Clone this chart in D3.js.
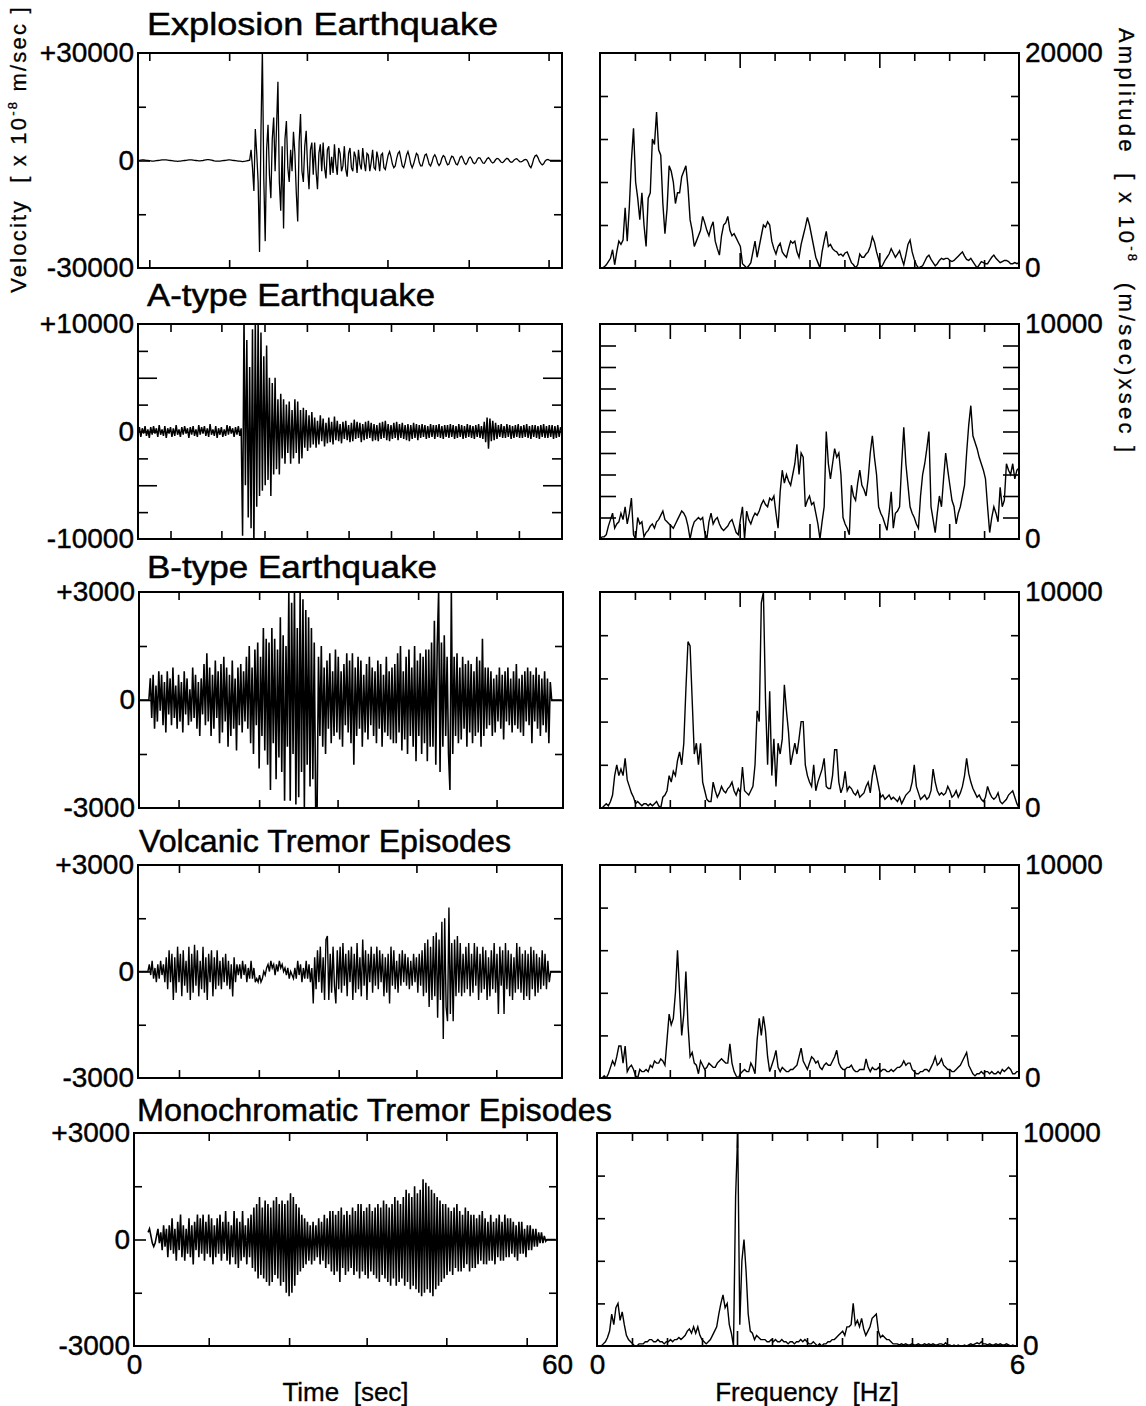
<!DOCTYPE html>
<html><head><meta charset="utf-8">
<script src="https://cdn.jsdelivr.net/npm/d3@7"></script>
<style>
body{margin:0;background:#fff;}
svg{display:block;}
text{white-space:pre;}
</style></head><body>
<svg id="chart" width="1146" height="1406"></svg>
<script>
// ================= DATA =================
const titles = ["Explosion Earthquake","A-type Earthquake","B-type Earthquake","Volcanic Tremor Episodes","Monochromatic Tremor Episodes"];
const velLimits = [30000,10000,3000,3000,3000];
const velTickStep = [15000,2500,1500,1500,1500];
const velTopLabels = ["+30000","+10000","+3000","+3000","+3000"];
const velBottomLabels = ["-30000","-10000","-3000","-3000","-3000"];
const timeTicks = [[1.6,12.9,23.9,35.3,46.8,58.1],[4.6,11.8,17.9,23.9,29.8,35.8,41.8,47.9,53.9],[5.6,17.0,28.1,39.5,50.6],[5.8,17.1,28.4,39.4,50.7],[10.6,22.0,33.0,44.3,55.7]];
const timeLabels = ["0","60"];
const ampMax = [20000,10000,10000,10000,10000];
const ampTickStep = [4000,1000,2000,2000,2000];
const ampTopLabels = ["20000","10000","10000","10000","10000"];
const freqTicks = [0.5,1,1.5,2,2.5,3,3.5,4,4.5,5,5.5];
const freqLabels = ["0","6"];
const sampleDt = 0.2;           // seconds between samples
const velStart = [0,0,0,0,2.0]; // time of first sample
const freqStep = 0.03;          // Hz between spectral samples

const explosionVel = [
0,50,100,150,150,100,50,0,-50,-100,
-150,-150,-100,-50,0,50,100,150,200,200,
150,100,50,0,-50,-100,-150,-200,-250,-200,
-150,-100,-50,0,50,100,150,200,150,100,
50,0,-50,-100,-100,-50,0,100,200,250,
250,200,100,0,-100,-150,-200,-200,-150,-100,
-50,0,50,100,150,150,100,50,0,-50,
-100,-150,-200,-250,-300,-250,-200,-100,0,100,
3000,-2000,-8500,8800,2000,-6000,-25500,8000,31000,-5000,
-22500,3000,10000,-4000,-10500,6000,12000,-3000,9000,22000,
-6000,-14000,4000,-19000,6000,11000,-2000,-6000,3000,-3000,
8000,2000,-9000,-17000,5000,13000,-3000,-6000,4000,8300,
-2000,-8000,3000,5000,-4000,5000,-3000,-8000,2000,4500,
-3000,5000,-2000,-5000,3000,4000,-4000,1000,-3500,4500,-1000,-4000,3500,2000,-3000,-1500,4000,-2500,-4500,2000,
3500,-2000,-3000,2500,1000,-3500,3000,-1000,-2500,3500,-500,-3000,2000,1500,-3000,-500,3000,-2000,-2500,2500,500,-3000,1500,2000,-2000,
-2500,-500,1500,2500,1000,-1000,-2000,-1500,500,2000,2500,500,-1500,-2000,-500,1500,2500,1000,-1000,-2000,-1000,500,2000,1500,-500,
-1500,-1500,0,1500,1800,500,-1000,-1500,-500,1000,1600,800,-700,-1400,-800,600,1400,1000,-300,-1200,-1000,300,1200,1000,0,-1000,-1200,-200,900,1200,400,-700,-1100,-500,600,
1000,500,-500,-900,-600,300,800,700,0,-700,-800,-200,500,800,300,-400,-700,-400,200,600,500,0,-500,-600,-200,300,600,400,-200,-500,-400,100,400,500,100,-300,-400,-200,100,300,
200,-500,-1500,-2000,-1000,500,1300,1500,800,-200,-800,-1200,-900,-200,200,300,100,0,0,50,0,0,50,0,0];

const atypeVel = [
-300,400,-500,300,-200,500,-400,200,-600,400,
-300,500,-200,300,-500,600,-300,200,-400,500,
-600,300,-200,400,-500,300,-400,600,-300,200,
-500,400,-300,500,-200,300,-600,400,-300,500,
-400,200,-500,600,-300,400,-200,500,-400,300,
-500,700,-300,200,-400,500,-600,300,-300,400,
-500,200,-400,600,-300,500,-200,300,-500,400,
-300,500,-400,300,
-9700,11000,-5000,8500,-8000,6000,-9000,9500,-11000,10500,
-7000,10500,-6000,9200,-5500,7000,-5000,8000,-4500,5000,
-6000,4500,-4000,5000,-3500,3000,-4000,3500,-2500,3000,
-3000,2500,-2000,2800,-3000,2000,-2500,3000,-2000,2800,
-3000,2000,-2500,2200,-1500,2000,-1800,1500,-1500,1800,
-1200,
1300,-1500,1000,-1200,1500,-900,1200,-1400,800,-1100,1300,-1000,900,-1200,1400,
-800,1000,-900,700,-1100,900,-700,1000,-800,600,
-1000,800,-900,1100,-700,900,-600,800,-1000,700,
-800,900,-700,1000,-600,800,-900,700,-800,600,
-900,800,-700,900,-600,1000,-800,700,-900,600,
-700,800,-600,900,-800,700,-600,800,-700,600,
-800,700,-900,600,-700,800,-600,700,-800,600,
-600,700,-500,600,-700,500,-600,700,-500,600,
-700,600,-500,700,-600,500,-700,600,-500,600,
-600,700,-500,600,-700,500,-600,700,-500,600,
-700,500,-600,700,-500,600,-600,500,-700,600,
-500,700,-600,500,-700,
900,-1000,1300,-1600,1200,-900,1000,-800,800,-700,
600,-500,700,-600,500,-600,700,-500,600,-700,
500,-600,600,-500,700,-600,500,-600,600,-500,
700,-600,500,-700,600,-500,600,-600,500,-700,
600,-500,700,-600,500,-600,600,-500,600,-700,
500,-600,600,-500,400];

const btypeVel = [
0,0,0,0,0,0,0,0,
600,-500,700,-800,400,-600,800,-300,700,-700,
500,-900,800,-400,600,-700,900,-500,400,-800,
700,-600,500,-900,800,-400,600,-700,300,-600,
900,-500,700,-800,500,-1000,600,-400,
1000,-700,1300,-600,900,-1000,700,-800,1100,-500,
800,-1200,1000,-900,1200,-600,900,-1300,700,-1000,
1100,-800,600,-1400,900,-700,1000,-900,800,-600,
1200,-800,1500,-1200,900,-1500,1400,-700,1600,-1900,1200,-1000,2000,-1400,1700,
-1800,1600,-2500,2000,-1200,1700,-2200,1400,-1600,2300,-2000,1800,-2800,1500,-1300,
3000,-2800,2700,-1500,3000,-2900,2000,-2700,3000,-2000,2800,-3000,2500,-1800,2300,-2400,2000,-2200,1600,-3000,
-3100,1200,-1000,1500,-1300,900,-1500,1100,-800,1300,-1200,800,-1000,1400,-900,1200,-1100,800,-1300,1000,-700,1300,-900,1100,-1200,
1300,-1800,900,-1000,1200,-800,1100,-1300,700,-900,1000,-1100,1200,-700,900,-1000,800,-1200,1100,-800,1000,-1300,700,-900,1200,-1000,800,-1100,900,-1200,
1000,-1200,1300,-900,1500,-1400,800,-1100,1200,-1500,
1400,-1000,900,-1300,1500,-1700,1100,-1000,1300,-1500,
1200,-1200,1400,-1700,1400,-1300,1600,-1300,2200,-1800,
1500,3000,-2000,1600,-1300,1800,-1000,1200,-1500,-2500,
3000,-1500,1200,-1000,1300,-1200,900,-1100,1200,-800,1000,-1300,1100,-900,1000,-1200,800,-1000,1200,-900,1100,-1300,1700,-1000,900,
-800,900,-700,800,-1000,600,-900,700,-600,900,
-800,700,-1100,800,-600,900,-700,600,-900,800,
-700,1000,-800,600,-900,700,-1000,800,-600,900,
-700,800,-1200,700,-600,900,-800,700,-1000,600,
-700,800,-900,600,-1200,500,
0,0,0,0,0,0,0,0];

const tremorVel = [
0,0,0,0,0,0,0,0,
200,-100,300,-200,100,-300,200,-200,300,-100,200,-300,400,
-500,600,-300,500,-800,400,-600,700,-300,500,-700,600,-400,300,-600,
700,-800,500,-600,750,-400,600,-700,300,-500,700,-600,400,-800,500,-300,600,-700,400,-500,600,-400,300,-500,400,
-300,500,-400,300,-500,200,-700,400,-300,200,
-100,200,-200,300,-100,200,-300,100,-200,300,
-200,100,-300,-200,-300,-100,-300,-200,0,-100,
100,200,0,300,100,200,-100,200,0,300,
100,200,0,100,-100,100,-200,0,-100,-200,
100,-200,300,-100,200,-300,100,-200,300,-200,
200,-300,100,
-900,400,-500,600,-300,700,-600,400,-800,900,
1000,-800,500,-600,700,-400,-900,600,-500,700,
-600,800,-400,500,-700,600,-300,700,-800,500,
-600,800,-500,400,-700,900,-400,600,-800,500,
-300,700,
-600,500,-400,700,-500,600,-300,500,-700,400,
-600,500,-900,700,-400,600,-500,300,-600,500,
-400,600,-300,500,-400,
400,-500,300,-400,500,-300,400,-600,500,-400,
600,-700,800,-600,900,-1000,700,-800,1000,-700,
1100,-1300,900,-800,1400,-1900,1500,-1000,-1400,1800,
-1200,800,-1400,900,-700,1000,-600,800,-700,500,
-600,700,-500,800,-700,500,-600,800,-400,700,
-800,500,-600,700,-500,600,-800,400,-700,600,
-500,800,-600,500,-1200,700,-400,600,-1200,800,
-500,600,-700,500,-800,400,-600,800,-500,700,
-600,500,-800,600,-700,500,-800,700,-500,600,
-700,500,-600,400,-500,600,-400,500,-500,300,
-300,0,
0,0,0,0,0,0,0];

const monoVel = [
200,300,100,-100,-200,-100,100,300,-100,
200,-300,400,-200,300,-500,400,-300,600,-400,
300,-600,500,-300,700,-500,400,-600,300,-400,
600,-500,400,-700,500,-300,700,
-500,600,-400,700,-600,500,-400,700,-500,600,
-700,400,-500,600,-400,700,-600,500,-400,800,
-600,500,-700,400,-500,
800,-700,600,-800,500,-600,800,-500,400,-700,600,-500,700,-800,900,
-900,1000,-1100,1200,-1000,900,-1100,1100,-1200,1000,
-1300,900,-1200,1100,-1000,1200,-1100,1000,-1300,1100,
-1200,1000,-1500,1100,-1600,1300,-1500,1200,-1300,1000,
-1000,900,-900,700,-800,
600,-700,500,-600,400,-700,500,-600,400,-500,
600,-700,500,-600,700,-800,600,-700,800,-900,
800,-1000,700,-900,800,-1200,900,-800,700,-1000,
800,-900,700,-800,900,-1000,800,-900,1000,-1100,
1000,-900,800,-1000,900,-1100,1000,-900,800,-1000,
900,-1100,1000,-1200,900,-1000,1100,-1100,1000,-1200,
900,-1300,1000,-1100,1200,-1300,1100,-1200,1000,-1100,
1200,-1300,1400,-1200,1300,-1400,1200,-1300,1500,-1400,
1300,-1500,1400,-1600,1700,-1500,1600,-1400,1500,-1500,
1400,-1600,1300,-1400,1200,-1300,1100,-1200,1000,-1100,
1000,-1000,900,-900,800,-1000,900,-800,1000,-900,
800,-900,700,-800,900,-700,800,-900,700,-800,
700,-800,600,-700,700,-600,800,-700,600,-700,
500,-600,700,-600,500,-700,600,-500,700,-600,
500,-600,700,-500,600,
-500,600,-400,500,-500,400,-600,500,-400,500,
-400,300,-500,400,-300,400,-300,300,-200,300,
-200,200,-100,200,-100,100,-50,0,0,0,0,0,0,0];

const explosionAmp = [
0,0,100,300,600,900,1700,300,1500,2500,
2200,2600,5600,2500,5700,10000,13000,8000,6500,4500,
7000,4000,2000,6500,7000,12000,11500,14500,11000,10500,
6000,3200,5500,9500,9000,8000,6000,7000,7000,8500,
9000,9500,7500,4500,3500,2000,2500,3000,3500,4800,
4200,3500,3000,3800,4300,2500,1800,1200,3000,4000,
4200,4800,3500,3000,3200,2800,2400,2000,400,200,
0,200,500,1500,2500,1000,2000,3000,4000,3800,
4300,4000,2500,1800,1300,2000,2300,1500,1200,1000,
1800,2500,2300,2500,1500,1000,2200,3000,3800,4700,
4000,3000,2000,1000,500,0,1500,2500,3400,2000,
2200,1800,1600,1500,1200,1300,1100,1400,1500,1000,
500,300,0,300,1300,1000,1000,1300,1500,2000,
2900,2400,1500,800,0,300,700,1000,1300,1800,
1400,1000,1300,1600,900,300,1200,2200,2600,1500,
800,300,0,100,200,600,1000,1200,800,500,
200,400,700,900,800,900,900,700,600,700,
900,1100,1300,1500,1100,800,700,900,600,300,
0,300,600,500,400,400,700,1000,1200,900,
700,500,600,700,700,600,400,400,500,400,500];

const atypeAmp = [
0,100,100,200,600,900,1200,500,700,800,
1200,900,1500,700,1200,1900,200,0,1000,700,
800,100,300,400,600,700,500,800,900,1100,
1300,900,800,700,600,500,700,900,1100,1300,
1200,1000,600,0,500,800,900,1000,900,1000,
300,0,800,1200,700,900,1000,700,500,400,
500,600,800,900,600,300,200,900,1500,0,
1300,900,700,1000,1200,1100,1300,1600,1800,1600,
1500,1900,1800,2000,1200,500,2200,3200,2600,3000,
2700,2500,3000,3500,4400,3000,4000,3800,1500,1800,
2000,1600,1700,1200,700,0,800,1500,5000,3500,
2800,3500,4200,3800,4000,3000,1000,700,500,200,
2500,2000,1800,2600,3200,2500,2300,2000,2800,4000,
4800,3800,3000,1500,1200,1000,700,400,1200,2200,
500,1200,1300,1500,3500,5200,3500,2500,1500,1200,
1000,700,500,2000,3000,3500,4200,5000,1500,900,
300,1200,2000,1500,2800,4000,3200,2500,1800,1500,
700,1200,1500,2000,2500,4000,5300,6200,4800,4500,
4200,3800,3500,3200,2800,1500,300,1000,1500,1200,
800,2400,1500,1800,3500,3200,3000,3500,2800,3200,3300];

const btypeAmp = [
0,0,100,200,100,300,600,1500,2000,1500,
1800,1500,2300,1300,1000,700,500,200,300,200,
100,200,200,100,200,100,200,300,100,0,
500,600,800,1500,1200,1700,1500,2200,2600,2000,
3000,5500,7700,7500,5000,2500,3000,2000,3000,1200,
800,400,300,300,1200,800,500,700,1000,800,
700,900,1000,1200,800,600,900,700,1900,800,
700,600,800,1000,2000,4500,4000,9500,10000,5000,
2000,5400,1500,3200,1000,3000,2500,3200,5700,4500,
3500,2000,2500,3000,2500,3200,4000,4000,2000,1500,
1200,1000,2000,800,1200,1500,1800,2300,1000,900,
900,1500,2700,2700,1200,700,1000,1700,800,1000,
900,700,600,800,500,600,700,1000,1200,700,
1500,2000,1500,1000,500,600,400,500,600,400,
500,400,300,500,200,400,600,700,800,1200,
2000,1000,700,400,500,600,400,500,800,1800,
1200,800,600,700,600,700,1000,800,500,600,
800,500,700,1000,1500,2300,1600,1200,900,700,
500,600,400,300,500,1000,700,500,400,500,
700,300,200,300,400,600,700,800,500,200,0];

const tremorAmp = [
0,0,100,0,200,500,800,600,1000,1500,
1500,700,1500,300,500,600,400,100,0,400,
300,300,400,300,600,500,800,700,700,900,
800,600,1800,3000,2500,2800,4000,6000,4000,2000,
3000,5000,2500,1000,1200,700,600,200,800,600,
400,500,700,600,500,500,700,800,900,800,
700,700,1600,700,300,100,0,200,300,400,
300,300,700,500,200,1800,2800,2000,2900,2200,
1000,300,600,900,1300,500,300,500,400,300,
300,400,400,500,600,1000,1400,800,600,400,
700,1000,900,700,800,500,400,600,700,600,
600,800,1000,1300,700,500,400,400,500,500,
600,400,300,300,400,400,400,900,500,300,
500,400,400,500,300,400,400,300,300,400,
300,400,500,500,600,800,600,700,700,400,
300,200,200,300,300,400,400,300,500,700,
1000,600,700,900,600,500,400,400,300,300,
400,500,600,800,1000,1200,600,400,200,100,
200,200,300,200,300,300,200,300,200,200,
300,200,400,300,400,500,400,200,200,300,300];

const monoAmp = [
0,0,0,100,200,400,700,1500,1000,1800,
2000,1200,1600,1000,500,300,200,100,0,0,
100,100,100,200,200,300,300,200,200,300,
200,200,100,200,200,300,200,300,300,400,
300,400,500,700,800,600,900,600,900,500,
300,200,100,200,300,500,700,900,1500,2000,
2400,1800,2000,1000,600,0,7000,10000,1000,4000,
5000,3500,1500,700,600,300,500,400,300,300,
300,200,200,300,200,300,200,200,300,200,
200,100,200,200,100,200,200,300,200,300,
200,100,100,200,100,0,100,0,100,100,
200,200,300,300,400,500,600,700,500,900,
900,1000,2000,1000,1200,900,1300,800,500,700,
900,1300,1400,1500,700,400,500,400,300,300,
200,100,100,100,50,100,50,100,50,50,
100,50,50,100,50,50,100,50,100,50,
100,50,50,100,100,50,150,50,50,0,
50,0,50,0,0,50,0,50,100,50,
100,150,100,200,100,100,50,100,50,50,
100,50,100,50,50,100,50,0,50,0,0];

const velSeries = [explosionVel, atypeVel, btypeVel, tremorVel, monoVel];
const ampSeries = [explosionAmp, atypeAmp, btypeAmp, tremorAmp, monoAmp];

// ================= LAYOUT =================
const FONT = "'Liberation Sans', Arial, Helvetica, sans-serif";
const leftBox  = [[138,562],[138,562],[139,563],[138,562],[134,557]];
const rightBox = [[600,1019],[600,1019],[600,1019],[600,1019],[597,1017]];
const rowBox   = [[53,268],[324,539],[592,808],[865,1078],[1133,1346]];
const titlePos = [[147,35,351],[147,306,288],[147,578,290],[139,852,372],[137,1121,475]];
const velStroke = [1.3,1.5,1.6,1.4,1.6];

const svg = d3.select("#chart");
svg.append("rect").attr("width",1146).attr("height",1406).attr("fill","#fff");

function styleAxis(g, size){
  g.attr("font-family", FONT).attr("font-size", size);
  g.select(".domain").remove();
  g.selectAll(".tick line").attr("stroke","#000").attr("stroke-width",1.6);
  g.selectAll(".tick text").attr("fill","#000").attr("stroke","#000").attr("stroke-width",0.4);
}

for (let r = 0; r < 5; r++) {
  const [ly0, ly1] = rowBox[r];
  // ---------- left: seismogram ----------
  const [lx0, lx1] = leftBox[r];
  const lim = velLimits[r];
  const x = d3.scaleLinear().domain([0,60]).range([lx0,lx1]);
  const y = d3.scaleLinear().domain([-lim,lim]).range([ly1,ly0]);
  svg.append("clipPath").attr("id","cl"+r).append("rect")
    .attr("x",lx0).attr("y",ly0).attr("width",lx1-lx0).attr("height",ly1-ly0);
  const line = d3.line().x((d,i)=>x(velStart[r]+i*sampleDt)).y(d=>y(d));
  svg.append("path").datum(velSeries[r]).attr("d",line)
    .attr("fill","none").attr("stroke","#000").attr("stroke-width",velStroke[r])
    .attr("clip-path","url(#cl"+r+")");

  // time ticks (inside, top & bottom)
  styleAxis(svg.append("g").attr("transform",`translate(0,${ly0})`)
    .call(d3.axisTop(x).tickValues(timeTicks[r]).tickSize(-8).tickFormat("")), 10);
  styleAxis(svg.append("g").attr("transform",`translate(0,${ly1})`)
    .call(d3.axisBottom(x).tickValues(timeTicks[r]).tickSize(-8).tickFormat("")), 10);

  // velocity ticks (inside, both sides)
  const step = velTickStep[r];
  const vt = d3.range(-lim+step, lim, step);
  const longV = r===1 ? vt.filter(v=>Math.abs(v)===5000 || v===0) : vt.filter(v=>v===0);
  const shortV = vt.filter(v=>!longV.includes(v));
  const shortLen = r===1 ? 10 : 8, longLen = r===1 ? 19 : 12;
  [[shortV,shortLen],[longV,longLen]].forEach(([vals,len])=>{
    styleAxis(svg.append("g").attr("transform",`translate(${lx0},0)`)
      .call(d3.axisLeft(y).tickValues(vals).tickSize(-len).tickFormat("")), 10);
    styleAxis(svg.append("g").attr("transform",`translate(${lx1},0)`)
      .call(d3.axisRight(y).tickValues(vals).tickSize(-len).tickFormat("")), 10);
  });
  // velocity labels
  const lblV = svg.append("g").attr("transform",`translate(${lx0},0)`)
    .call(d3.axisLeft(y).tickValues([lim,0,-lim]).tickSize(0).tickPadding(4)
      .tickFormat(d => d>0 ? velTopLabels[r] : (d<0 ? velBottomLabels[r] : "0")));
  styleAxis(lblV, 28);

  // box
  svg.append("rect").attr("x",lx0).attr("y",ly0).attr("width",lx1-lx0).attr("height",ly1-ly0)
    .attr("fill","none").attr("stroke","#000").attr("stroke-width",2);

  // title
  svg.append("text").attr("x",titlePos[r][0]).attr("y",titlePos[r][1])
    .attr("font-family",FONT).attr("font-size",32)
    .attr("stroke","#000").attr("stroke-width",0.5)
    .attr("textLength",titlePos[r][2]).attr("lengthAdjust","spacingAndGlyphs")
    .text(titles[r]);

  // ---------- right: spectrum ----------
  const [rx0, rx1] = rightBox[r];
  const fx = d3.scaleLinear().domain([0,6]).range([rx0,rx1]);
  const ay = d3.scaleLinear().domain([0,ampMax[r]]).range([ly1,ly0]);
  svg.append("clipPath").attr("id","cr"+r).append("rect")
    .attr("x",rx0).attr("y",ly0).attr("width",rx1-rx0).attr("height",ly1-ly0);
  const sline = d3.line().x((d,i)=>fx(i*freqStep)).y(d=>ay(d));
  svg.append("path").datum(ampSeries[r]).attr("d",sline)
    .attr("fill","none").attr("stroke","#000").attr("stroke-width",1.4)
    .attr("clip-path","url(#cr"+r+")");

  const longF = r===1 ? [1,2,3,4,5] : [2,4];
  const shortF = freqTicks.filter(f=>!longF.includes(f));
  [[shortF,8],[longF,15]].forEach(([vals,len])=>{
    styleAxis(svg.append("g").attr("transform",`translate(0,${ly0})`)
      .call(d3.axisTop(fx).tickValues(vals).tickSize(-len).tickFormat("")), 10);
    styleAxis(svg.append("g").attr("transform",`translate(0,${ly1})`)
      .call(d3.axisBottom(fx).tickValues(vals).tickSize(-len).tickFormat("")), 10);
  });
  const at = d3.range(ampTickStep[r], ampMax[r], ampTickStep[r]);
  const aLen = r===1 ? 16 : 8;
  styleAxis(svg.append("g").attr("transform",`translate(${rx0},0)`)
    .call(d3.axisLeft(ay).tickValues(at).tickSize(-aLen).tickFormat("")), 10);
  styleAxis(svg.append("g").attr("transform",`translate(${rx1},0)`)
    .call(d3.axisRight(ay).tickValues(at).tickSize(-aLen).tickFormat("")), 10);
  const lblA = svg.append("g").attr("transform",`translate(${rx1},0)`)
    .call(d3.axisRight(ay).tickValues([ampMax[r],0]).tickSize(0).tickPadding(6)
      .tickFormat(d => d>0 ? ampTopLabels[r] : "0"));
  styleAxis(lblA, 28);

  svg.append("rect").attr("x",rx0).attr("y",ly0).attr("width",rx1-rx0).attr("height",ly1-ly0)
    .attr("fill","none").attr("stroke","#000").attr("stroke-width",2);

  // bottom tick labels on last row
  if (r === 4) {
    styleAxis(svg.append("g").attr("transform",`translate(0,${ly1})`)
      .call(d3.axisBottom(x).tickValues([0,60]).tickSize(0).tickPadding(8)
        .tickFormat((d,i)=>timeLabels[i])), 28);
    styleAxis(svg.append("g").attr("transform",`translate(0,${ly1})`)
      .call(d3.axisBottom(fx).tickValues([0,6]).tickSize(0).tickPadding(8)
        .tickFormat((d,i)=>freqLabels[i])), 28);
    svg.append("text").attr("x",(lx0+lx1)/2).attr("y",1401).attr("text-anchor","middle")
      .attr("font-family",FONT).attr("font-size",26).attr("stroke","#000").attr("stroke-width",0.3)
      .text("Time  [sec]");
    svg.append("text").attr("x",(rx0+rx1)/2).attr("y",1401).attr("text-anchor","middle")
      .attr("font-family",FONT).attr("font-size",26).attr("stroke","#000").attr("stroke-width",0.3)
      .text("Frequency  [Hz]");
  }
}

// axis titles
const vtt = svg.append("text").attr("transform","translate(26,149) rotate(-90)")
  .attr("text-anchor","middle").attr("font-family",FONT).attr("font-size",22)
  .attr("letter-spacing",2.2).attr("stroke","#000").attr("stroke-width",0.3);
vtt.append("tspan").text("Velocity  [ x 10");
vtt.append("tspan").attr("dy",-9).attr("font-size",13).text("-8");
vtt.append("tspan").attr("dy",9).text(" m/sec ]");

const att = svg.append("text").attr("transform","translate(1119,28) rotate(90)")
  .attr("text-anchor","start").attr("font-family",FONT).attr("font-size",22)
  .attr("letter-spacing",3.2).attr("stroke","#000").attr("stroke-width",0.3);
att.append("tspan").text("Amplitude  [ x 10");
att.append("tspan").attr("dy",-9).attr("font-size",13).text("-8");
att.append("tspan").attr("dy",9).text("  (m/sec)xsec ]");
</script>
</body></html>
